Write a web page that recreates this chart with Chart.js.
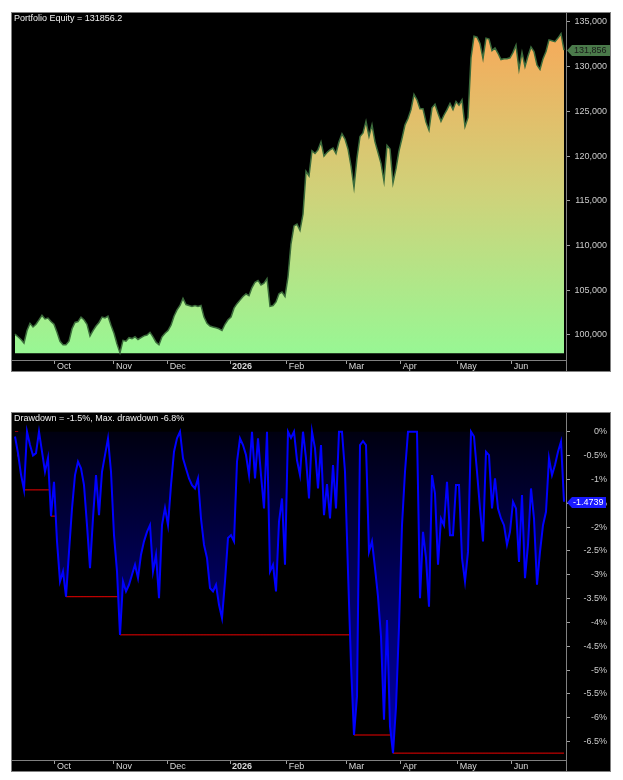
<!DOCTYPE html>
<html><head><meta charset="utf-8">
<script src="https://cdn.jsdelivr.net/npm/chart.js@4.4.1/dist/chart.umd.min.js"></script>
<style>
body{margin:0;background:#fff;}
canvas{position:absolute;left:11px;}
#c1{top:12px}
#c2{top:412px}
</style></head><body>
<canvas id="c1" width="600" height="360"></canvas>
<canvas id="c2" width="600" height="360"></canvas>
<script>
// ---- data (one bar every index) ----
const equity = [
100100,99800,99500,99100,100500,101300,100900,101200,101700,102200,
101800,101900,101500,101200,100300,99300,98900,98900,99300,100700,
101400,101500,102000,101700,101200,99900,100500,101000,101400,102000,
101900,102100,101100,100200,99000,98000,99400,99300,99700,99600,
99800,99500,99700,99900,100000,100300,99800,99200,98900,99800,
100200,100500,101100,102100,102800,103300,104100,103400,103300,103200,
103300,103200,103300,102000,101300,101000,100900,100800,100700,100500,
101200,101700,102000,103000,103500,103900,104300,104600,104400,105300,
105900,106100,105600,105800,106300,103200,103300,103700,104600,104800,
104300,106500,110200,112200,112400,111700,113500,118300,117800,120600,
120300,120700,121600,120000,120400,120700,120900,120300,121600,122500,
121900,120800,118900,116500,119800,122200,122600,123900,122200,123500,
121600,120400,119200,117200,121200,120800,117000,118600,120600,122000,
123500,124200,125200,126900,126300,125300,125300,123800,122900,125400,
125800,124800,123900,124600,125200,125900,125200,126100,125700,126300,
123300,124300,131000,133400,133300,132600,130900,133200,133100,131800,
132100,131500,130800,130900,130900,131000,131600,132400,129700,131600,
130000,131200,132200,131700,130200,129700,130900,131700,133000,132900,
132800,133200,133700,131856
];
const drawdown = [
-0.1,-0.45,-0.9,-1.22,0,-0.28,-0.5,-0.45,0,-0.42,
-0.84,-0.55,-1.77,-1.05,-2.3,-3.14,-2.93,-3.46,-2.52,-1.61,
-0.91,-0.63,-0.77,-1.12,-1.96,-2.86,-1.81,-0.91,-1.75,-0.84,
-0.49,-0.14,-0.84,-2.17,-2.93,-4.26,-3.14,-3.35,-3.21,-3.0,
-2.79,-3.07,-2.58,-2.3,-2.1,-1.96,-2.93,-2.58,-3.49,-1.96,
-1.6,-1.96,-1.12,-0.42,-0.14,0,-0.56,-0.77,-0.98,-1.12,
-1.19,-0.98,-1.82,-2.37,-2.65,-3.28,-3.35,-3.21,-3.63,-3.91,
-3.14,-2.23,-2.17,-2.3,-0.63,-0.14,-0.28,-0.49,-0.91,0,
-0.98,-0.14,-0.91,-1.61,0,-2.93,-2.79,-3.35,-1.89,-1.4,
-2.79,0,-0.13,0,-0.6,-0.91,0,-0.56,-1.4,0,
-0.35,-1.19,-0.28,-1.75,-1.1,-1.82,-0.7,-1.61,0,0,
-0.84,-2.93,-4.88,-6.36,-5.55,-0.28,-0.2,-0.28,-2.52,-2.3,
-2.86,-3.46,-4.3,-6.04,-3.95,-6.18,-6.74,-5.77,-4.09,-1.96,
-0.84,0,0,0,0,-3.49,-2.1,-2.65,-3.67,-0.91,
-1.3,-2.79,-1.82,-1.96,-1.05,-2.17,-2.17,-1.12,-1.12,-2.65,
-3.14,-2.52,0,-0.1,-0.84,-1.61,-2.3,-0.42,-0.49,-1.61,
-0.98,-1.61,-1.82,-1.96,-2.37,-2.1,-1.47,-1.61,-2.73,-1.33,
-3.07,-2.37,-1.19,-1.82,-3.21,-2.52,-1.96,-1.68,-0.56,-0.91,
-0.7,-0.42,-0.21,-1.47
];
// running max-drawdown levels (start index, level)
const mddFrom  = [0, 1, 2, 3, 12, 17, 35, 112, 113, 126];
const mddLevel = [0, -0.52, -0.91, -1.22, -1.77, -3.46, -4.26, -4.88, -6.36, -6.74];
const monthTickIdx = [13.3, 33, 50.9, 71.7, 90.6, 110.6, 128.6, 147.6, 165.6];
const monthLabels  = ['Oct','Nov','Dec','2026','Feb','Mar','Apr','May','Jun'];
const equityTicks = [100000,105000,110000,115000,120000,125000,130000,135000];
const ddTicks = [0,-0.5,-1,-1.5,-2,-2.5,-3,-3.5,-4,-4.5,-5,-5.5,-6,-6.5];
const lastEquity = 131856.2;
const lastDD = -1.4739;
const curDDpct = -1.5;
const maxDDpct = -6.8;

// ---- helpers ----
const FONT = '"Liberation Sans", Arial, sans-serif';
const idx = equity.map((_, i) => i);
const mddSeries = drawdown.map((_, i) => {
  let lv = 0;
  for (let k = 0; k < mddFrom.length; k++) if (i >= mddFrom[k]) lv = mddLevel[k];
  return lv;
});

function panelPlugin(o) {
  return {
    id: 'panel',
    beforeDraw(chart) {
      const c = chart.ctx; c.save(); c.fillStyle = '#000'; c.fillRect(0, 0, chart.width, chart.height); c.restore();
    },
    afterDraw(chart) {
      const c = chart.ctx, ca = chart.chartArea, y = chart.scales.y;
      c.save();
      c.strokeStyle = '#808080'; c.lineWidth = 1;
      const rx = Math.round(ca.right) + 0.5;
      c.beginPath(); c.moveTo(rx, ca.bottom); c.lineTo(rx, chart.height); c.stroke();
      c.strokeRect(0.5, 0.5, chart.width - 1, chart.height - 1);
      c.fillStyle = '#f0f0f0'; c.font = '9px ' + FONT; c.textBaseline = 'top'; c.textAlign = 'left';
      c.fillText(o.title, 3, 2);
      const ty = Math.round(y.getPixelForValue(o.tagValue)) + 0.5;
      const x0 = ca.right + 1;
      c.fillStyle = o.tagBg;
      c.beginPath();
      c.moveTo(x0, ty); c.lineTo(x0 + 5, ty - 5.5); c.lineTo(x0 + o.tagW, ty - 5.5);
      c.lineTo(x0 + o.tagW, ty + 5.5); c.lineTo(x0 + 5, ty + 5.5); c.closePath(); c.fill();
      c.fillStyle = o.tagColor; c.textBaseline = 'middle';
      c.fillText(o.tagText, x0 + o.tagTextX, ty + 0.5);
      c.restore();
    }
  };
}
function xAxis() {
  return {
    type: 'linear', min: -1, max: 183.667,
    afterBuildTicks: s => { s.ticks = monthTickIdx.map(v => ({ value: v })); },
    afterFit: s => { s.height = 12; s.paddingLeft = 0; s.paddingRight = 0; },
    grid: { drawOnChartArea: false, drawTicks: true, tickLength: 4, color: '#a0a0a0' },
    border: { color: '#808080' },
    ticks: {
      autoSkip: false, maxRotation: 0, minRotation: 0, align: 'start', labelOffset: 2, padding: -3,
      color: '#d8d8d8',
      font: ctx => ({ family: FONT, size: 9, weight: monthLabels[ctx.index] === '2026' ? 'bold' : 'normal' }),
      callback: (v, i) => monthLabels[i]
    }
  };
}

// ---- equity chart ----
new Chart(document.getElementById('c1'), {
  type: 'line',
  data: { labels: idx, datasets: [{
    data: equity, borderColor: '#3b6b3b', borderWidth: 1.5, pointRadius: 0, tension: 0,
    fill: { value: 97950 },
    backgroundColor: ctx => {
      const ch = ctx.chart; if (!ch.chartArea) return '#c8d478';
      const y = ch.scales.y;
      const g = ch.ctx.createLinearGradient(0, y.getPixelForValue(97950), 0, y.getPixelForValue(133700));
      g.addColorStop(0, '#98f794'); g.addColorStop(0.5, '#cfd27a'); g.addColorStop(1, '#f6aa5a');
      return g;
    }
  }]},
  options: {
    responsive: false, animation: false, devicePixelRatio: 1,
    layout: { padding: { left: 1, top: 1, right: 4, bottom: 0 } },
    plugins: { legend: { display: false }, tooltip: { enabled: false } },
    scales: {
      x: xAxis(),
      y: {
        position: 'right', min: 97204, max: 136006,
        afterBuildTicks: s => { s.ticks = equityTicks.map(v => ({ value: v })); },
        afterFit: s => { s.width = 41; s.paddingTop = 0; s.paddingBottom = 0; },
        grid: { drawOnChartArea: false, tickLength: 4, color: '#a0a0a0' },
        border: { color: '#808080' },
        ticks: { crossAlign: 'far', padding: 2, color: '#cccccc', font: { family: FONT, size: 9 },
          callback: v => v.toLocaleString('en-US') }
      }
    }
  },
  plugins: [panelPlugin({ title: 'Portfolio Equity = ' + lastEquity, tagValue: lastEquity,
    tagText: Math.round(lastEquity).toLocaleString('en-US'), tagBg: '#4a7a4a', tagColor: '#1a1a1a', tagW: 43, tagTextX: 7 })]
});

// ---- drawdown chart ----
new Chart(document.getElementById('c2'), {
  type: 'line',
  data: { labels: idx, datasets: [
    { data: drawdown, borderColor: '#0000ff', borderWidth: 2, pointRadius: 0, tension: 0, fill: 'origin',
      backgroundColor: ctx => {
        const ch = ctx.chart; if (!ch.chartArea) return '#000050';
        const y = ch.scales.y;
        const g = ch.ctx.createLinearGradient(0, y.getPixelForValue(0), 0, y.getPixelForValue(-6.8));
        g.addColorStop(0, '#000010'); g.addColorStop(1, '#0000b0');
        return g;
      } },
    { data: mddSeries, borderColor: '#ee0000', borderWidth: 1, pointRadius: 0, stepped: true, fill: false }
  ]},
  options: {
    responsive: false, animation: false, devicePixelRatio: 1,
    layout: { padding: { left: 1, top: 1, right: 4, bottom: 0 } },
    plugins: { legend: { display: false }, tooltip: { enabled: false } },
    scales: {
      x: xAxis(),
      y: {
        position: 'right', min: -6.884, max: 0.392,
        afterBuildTicks: s => { s.ticks = ddTicks.map(v => ({ value: v })); },
        afterFit: s => { s.width = 41; s.paddingTop = 0; s.paddingBottom = 0; },
        grid: { drawOnChartArea: false, tickLength: 4, color: '#a0a0a0' },
        border: { color: '#808080' },
        ticks: { crossAlign: 'far', padding: 2, color: '#cccccc', font: { family: FONT, size: 9 },
          callback: v => v + '%' }
      }
    }
  },
  plugins: [panelPlugin({ title: 'Drawdown = ' + curDDpct + '%, Max. drawdown ' + maxDDpct + '%', tagValue: lastDD,
    tagText: String(lastDD), tagBg: '#1a1aff', tagColor: '#ffffff', tagW: 39, tagTextX: 6 })]
});
</script>
</body></html>
